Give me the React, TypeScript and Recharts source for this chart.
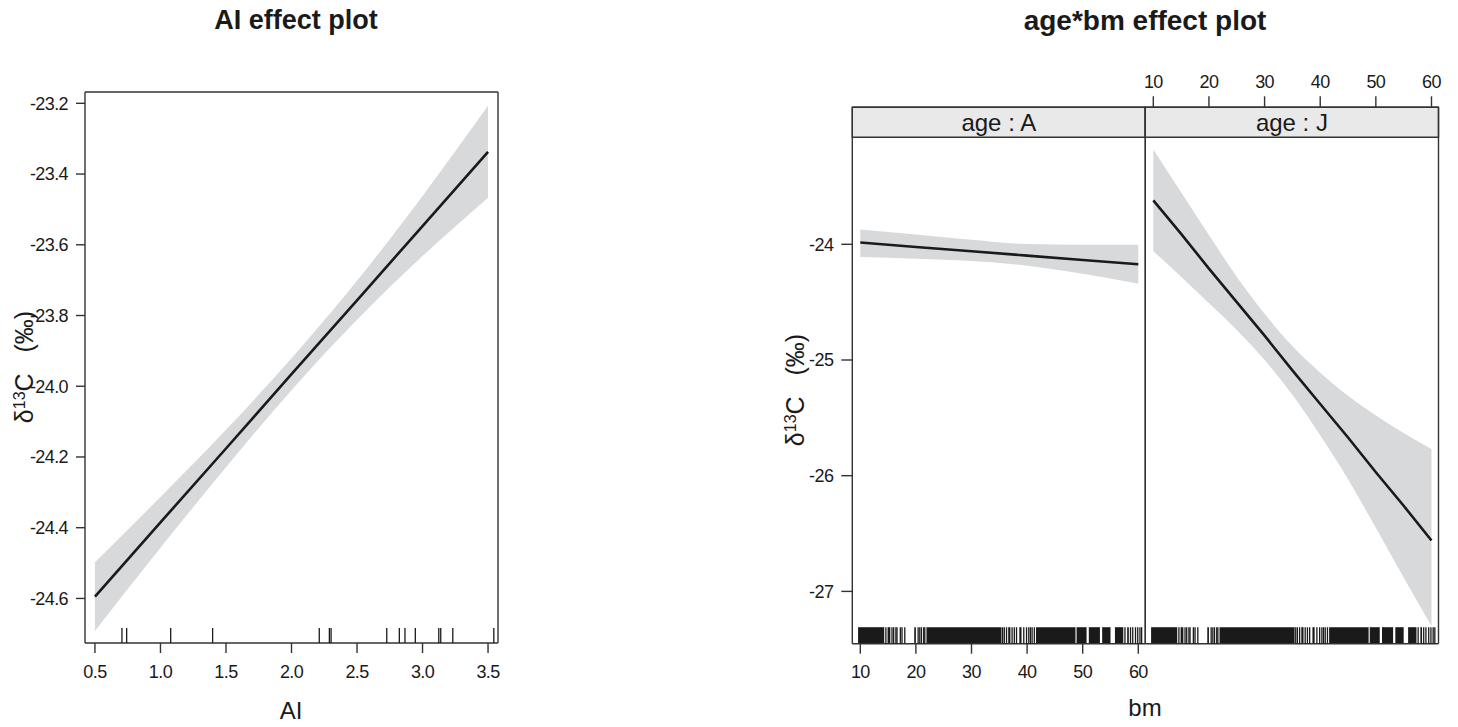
import React from "react";
import { ComposedChart, Area, Line, XAxis, YAxis, Scatter, ReferenceArea } from "recharts";

// ---- AI effect plot (left) ----
const aiX = [0.5, 1.0, 1.5, 2.0, 2.5, 3.0, 3.5];
const aiFit = [-24.595, -24.385, -24.176, -23.966, -23.757, -23.547, -23.337];
const aiLo = [-24.692, -24.457, -24.229, -24.011, -23.812, -23.632, -23.467];
const aiUp = [-24.498, -24.313, -24.123, -23.921, -23.702, -23.462, -23.207];
const aiRug = [0.706, 0.742, 1.078, 1.398, 2.212, 2.289, 2.302, 2.727, 2.823, 2.866, 2.945, 3.124, 3.139, 3.231, 3.544];
const aiXTicks = [0.5, 1.0, 1.5, 2.0, 2.5, 3.0, 3.5];
const aiYTicks = [-24.6, -24.4, -24.2, -24.0, -23.8, -23.6, -23.4, -23.2];

// ---- age*bm effect plot (right) ----
const bmA = [10, 20, 30, 40, 50, 60];
const aFit = [-23.985, -24.023, -24.06, -24.098, -24.136, -24.173];
const aUp = [-23.873, -23.915, -23.96, -23.998, -24.003, -24.005];
const aLo = [-24.11, -24.125, -24.145, -24.185, -24.255, -24.34];

const bmJ = [10, 15, 20, 25, 30, 35, 40, 45, 50, 55, 60];
const jFit = [-23.62, -23.91, -24.21, -24.5, -24.79, -25.09, -25.38, -25.67, -25.97, -26.26, -26.56];
const jUp = [-23.18, -23.55, -23.92, -24.28, -24.6, -24.88, -25.11, -25.31, -25.48, -25.63, -25.77];
const jLo = [-24.06, -24.28, -24.51, -24.74, -25.0, -25.3, -25.65, -26.03, -26.45, -26.88, -27.3];

// rug of bm: solid runs and single marks
const bmRugRuns = [[9.6, 14.3], [14.9, 15.4], [19.7, 20.0], [21.9, 35.4], [36.6, 37.0], [38.6, 39.0], [41.6, 48.7],
  [48.9, 50.7], [51.1, 53.1], [53.5, 55.0], [55.8, 57.3], [58.0, 58.3]];
const bmRugTicks = [14.6, 15.7, 16.0, 16.4, 16.6, 17.2, 17.5, 18.0, 20.4, 20.7, 21.0, 21.4, 21.6,
  35.6, 35.9, 36.3, 37.3, 37.7, 38.1, 39.4, 39.9, 40.3, 40.6, 40.9, 41.3, 57.6, 58.6, 59.0, 59.5, 59.9, 60.3, 60.6];
const bmXTicks = [10, 20, 30, 40, 50, 60];
const bmYTicks = [-27, -26, -25, -24];

const W = 1458;
const H = 727;
const FONT = '"Liberation Sans", Arial, Helvetica, sans-serif';
const INK = "#1a1a1a";
const FRAME = "#333";
const BAND = "#d8d9db";
const STRIP = "#e9e9ea";

type Box = { left: number; right: number; top: number; bottom: number };

type PanelProps = {
  box: Box;
  xDomain: [number, number];
  yDomain: [number, number];
  xTicks: number[];
  yTicks: number[];
  rows: { x: number; fit: number; band: number[] }[];
  rug: number[];
  rugRuns?: number[][];
  rugPx: number;
  leftTicks: boolean;
  leftLabels: boolean;
  rightTicks: boolean;
  topLabels: boolean;
  bottomLabels: boolean;
  fmt: (v: number) => string;
  strip?: { label: string; bottom: number };
  leftTickSize: number;
  rightW: number;
};

const tickStyle = { fontSize: 18, fill: INK, fontFamily: FONT, letterSpacing: -0.6 };

function EffectPanel(p: PanelProps) {
  const lw = 70, th = 40, bh = 50;
  const margin = {
    left: p.box.left - lw,
    right: W - p.box.right - p.rightW,
    top: p.box.top - th,
    bottom: H - p.box.bottom - bh,
  };
  const pxPerUnit = (p.box.bottom - p.box.top) / (p.yDomain[1] - p.yDomain[0]);
  const rugTop = p.yDomain[0] + p.rugPx / pxPerUnit;
  const rugRows = p.rug.map((v) => ({ x: v, y: p.yDomain[0] }));
  const RugMark = (s: any) => (
    <line x1={s.cx} x2={s.cx} y1={s.cy} y2={s.cy - p.rugPx} stroke={INK} strokeWidth={1.3} />
  );
  const line = { stroke: FRAME, strokeWidth: 1.4 };
  return (
    <div style={{ position: "absolute", left: 0, top: 0 }}>
      <ComposedChart width={W} height={H} data={p.rows} margin={margin}>
        <XAxis xAxisId="b" type="number" dataKey="x" orientation="bottom" domain={p.xDomain} ticks={p.xTicks}
          allowDataOverflow interval={0} height={bh} tickSize={10} tickMargin={12}
          axisLine={line} tickLine={line} tick={p.bottomLabels ? tickStyle : false} tickFormatter={p.fmt} />
        <XAxis xAxisId="t" type="number" dataKey="x" orientation="top" domain={p.xDomain} ticks={p.xTicks}
          allowDataOverflow interval={0} height={th} tickSize={11} tickMargin={8}
          axisLine={line} tickLine={line} tick={p.topLabels ? tickStyle : false} tickFormatter={p.fmt} />
        <YAxis yAxisId="l" type="number" orientation="left" domain={p.yDomain} ticks={p.yTicks}
          allowDataOverflow interval={0} width={lw} tickSize={p.leftTickSize} tickMargin={8}
          axisLine={line} tickLine={p.leftTicks ? line : false} tick={p.leftLabels ? tickStyle : false}
          tickFormatter={(v: number) => (p.yTicks.some((t) => !Number.isInteger(t)) ? v.toFixed(1) : String(v))} />
        <YAxis yAxisId="r" type="number" orientation="right" domain={p.yDomain} ticks={p.yTicks}
          allowDataOverflow interval={0} width={p.rightW} tickSize={9}
          axisLine={line} tickLine={p.rightTicks ? line : false} tick={false} />
        {p.strip && (
          <ReferenceArea xAxisId="b" yAxisId="l" x1={p.xDomain[0]} x2={p.xDomain[1]} y1={p.strip.bottom} y2={p.yDomain[1]}
            fill={STRIP} fillOpacity={1} stroke={FRAME} strokeWidth={1.4} ifOverflow="visible"
            label={{ value: p.strip.label, position: "center", fontSize: 24, fill: INK, fontFamily: FONT }} />
        )}
        <Area xAxisId="b" yAxisId="l" type="monotone" dataKey="band" fill={BAND} fillOpacity={1} stroke="none"
          isAnimationActive={false} activeDot={false} />
        <Line xAxisId="b" yAxisId="l" type="linear" dataKey="fit" stroke={INK} strokeWidth={2.6} dot={false}
          activeDot={false} isAnimationActive={false} />
        <Line xAxisId="t" yAxisId="r" type="linear" dataKey="fit" stroke="none" dot={false}
          activeDot={false} isAnimationActive={false} />
        {(p.rugRuns || []).map(([a, b], i) => (
          <ReferenceArea key={i} xAxisId="b" yAxisId="l" x1={a} x2={b} y1={p.yDomain[0]} y2={rugTop}
            fill={INK} fillOpacity={1} stroke="none" ifOverflow="visible" />
        ))}
        <Scatter xAxisId="b" yAxisId="l" data={rugRows} dataKey="y" shape={RugMark} isAnimationActive={false} />
      </ComposedChart>
    </div>
  );
}

const abs = (s: React.CSSProperties): React.CSSProperties => ({ position: "absolute", fontFamily: FONT, color: INK, whiteSpace: "nowrap", ...s });

const YLabel = ({ x, y }: { x: number; y: number }) => (
  <div style={abs({ left: x, top: y, fontSize: 25, lineHeight: "28px", transform: "translate(-50%, -50%) rotate(-90deg)" })}>
    δ<span style={{ fontSize: 16, verticalAlign: "8px" }}>13</span>C&nbsp;&nbsp;&nbsp;(‰)
  </div>
);

export default function App() {
  const aiRows = aiX.map((x, i) => ({ x, fit: aiFit[i], band: [aiLo[i], aiUp[i]] }));
  const aRows = bmA.map((x, i) => ({ x, fit: aFit[i], band: [aLo[i], aUp[i]] }));
  const jRows = bmJ.map((x, i) => ({ x, fit: jFit[i], band: [jLo[i], jUp[i]] }));
  const bmDomain: [number, number] = [8.56, 61.26];
  const bmY: [number, number] = [-27.452, -22.816];
  const stripBottom = -23.075;
  return (
    <div style={{ position: "absolute", left: 0, top: 0, width: W, height: H, background: "#fff", overflow: "hidden" }}>
      <EffectPanel box={{ left: 85, right: 498, top: 92, bottom: 643 }} xDomain={[0.424, 3.576]} yDomain={[-24.726, -23.168]}
        xTicks={aiXTicks} yTicks={aiYTicks} rows={aiRows} rug={aiRug} rugPx={15}
        leftTicks leftLabels rightTicks topLabels={false} bottomLabels fmt={(v) => v.toFixed(1)} leftTickSize={9} rightW={20} />
      <EffectPanel box={{ left: 852.3, right: 1145.3, top: 107.3, bottom: 643.7 }} xDomain={bmDomain} yDomain={bmY}
        xTicks={bmXTicks} yTicks={bmYTicks} rows={aRows} rug={bmRugTicks} rugRuns={bmRugRuns} rugPx={16.5}
        leftTicks leftLabels rightTicks={false} topLabels={false} bottomLabels fmt={(v) => String(v)}
        strip={{ label: "age : A", bottom: stripBottom }} leftTickSize={11} rightW={20} />
      <EffectPanel box={{ left: 1145.3, right: 1438.5, top: 107.3, bottom: 643.7 }} xDomain={bmDomain} yDomain={bmY}
        xTicks={bmXTicks} yTicks={bmYTicks} rows={jRows} rug={bmRugTicks} rugRuns={bmRugRuns} rugPx={16.5}
        leftTicks={false} leftLabels={false} rightTicks topLabels bottomLabels={false} fmt={(v) => String(v)}
        strip={{ label: "age : J", bottom: stripBottom }} leftTickSize={11} rightW={15} />

      <div style={abs({ left: 296, top: 5, fontSize: 27, fontWeight: "bold", transform: "translateX(-50%)" })}>AI effect plot</div>
      <div style={abs({ left: 1145, top: 5, fontSize: 28, fontWeight: "bold", transform: "translateX(-50%)" })}>age*bm effect plot</div>
      <YLabel x={22} y={367} />
      <YLabel x={793} y={390} />
      <div style={abs({ left: 291, top: 697, fontSize: 24, transform: "translateX(-50%)" })}>AI</div>
      <div style={abs({ left: 1145, top: 694, fontSize: 24, transform: "translateX(-50%)" })}>bm</div>
    </div>
  );
}
